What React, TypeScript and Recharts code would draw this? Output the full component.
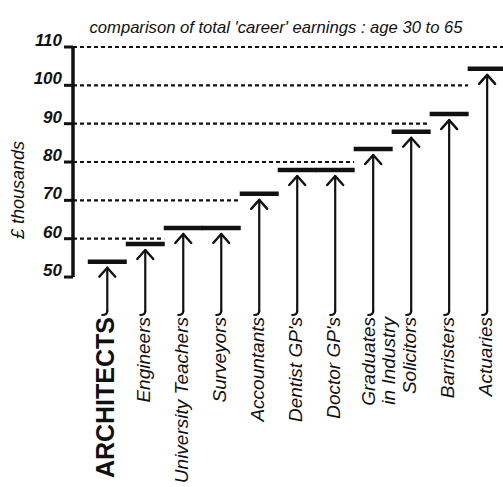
import { ComposedChart, Bar, XAxis, YAxis, ReferenceLine } from 'recharts'

// occupations, left to right, with label lines as drawn
const labelLines = [
  ['ARCHITECTS'],
  ['Engineers'],
  ['University Teachers'],
  ['Surveyors'],
  ['Accountants'],
  ["Dentist GP's"],
  ["Doctor GP's"],
  ['Graduates', 'in Industry'],
  ['Solicitors'],
  ['Barristers'],
  ['Actuaries'],
]

// total career earnings, age 30 to 65, £ thousands
const earnings = [54, 58.6, 62.8, 62.8, 71.7, 77.9, 77.9, 83.4, 87.9, 92.5, 104.3]

const yTicks = [50, 60, 70, 80, 90, 100, 110]
const gridValues = [60, 70, 80, 90, 100, 110]

const X_MIN = -0.9
const X_MAX = 10.42
const INK = '#111'
const HAND = '"Liberation Sans", sans-serif'
const CAP_HALF = 19.5

const data = earnings.map((value, idx) => ({ idx, value }))

// dashed line at each level runs until the first occupation that earns more
const gridSegments = gridValues.map((v) => {
  const first = earnings.findIndex((e) => e > v)
  return { v, end: first === -1 ? X_MAX : first - 0.5 }
})

function CapArrow(props: any) {
  const { x, y, width, height } = props
  const cx = x + width / 2
  const bottom = y + height
  const tip = y + 6
  return (
    <g stroke={INK} fill="none" strokeLinecap="round" strokeLinejoin="round">
      <line x1={cx - CAP_HALF} x2={cx + CAP_HALF} y1={y} y2={y} strokeWidth={4.5} strokeLinecap="butt" />
      <path d={`M${cx},${bottom - 4} L${cx},${tip}`} strokeWidth={2.2} />
      <path d={`M${cx - 8},${tip + 9} L${cx},${tip} L${cx + 8},${tip + 9}`} strokeWidth={2.4} />
      <path d={`M${cx},${bottom - 4} Q${cx},${bottom} ${cx - 5},${bottom}`} strokeWidth={2.2} />
    </g>
  )
}

function CategoryTick({ x, y, payload }: any) {
  const lines = labelLines[payload.value]
  if (!lines) return null
  const lead = payload.value === 0
  return (
    <g transform={`translate(${x},${y})`}>
      {lines.map((line, i) => (
        <text
          key={i}
          transform="rotate(-90)"
          textAnchor="end"
          dy={lines.length > 1 ? 2 + i * 20 : lead ? 7 : 5}
          fill={INK}
          fontFamily={lead ? '"Liberation Sans Narrow", sans-serif' : HAND}
          fontStyle={lead ? 'normal' : 'italic'}
          fontWeight={lead ? 'bold' : 'normal'}
          fontSize={lead ? 25 : 19}
        >
          {line}
        </text>
      ))}
    </g>
  )
}

function ValueTick({ x, y, payload }: any) {
  return (
    <text x={x} y={y} dy={-1} textAnchor="end" fill={INK} fontFamily={HAND}
      fontStyle="italic" fontWeight="bold" fontSize={17}>
      {payload.value}
    </text>
  )
}

export default function App() {
  return (
    <div style={{ position: 'absolute', left: 0, top: 0, width: 503, height: 487, background: '#fff' }}>
      <ComposedChart
        width={503}
        height={487}
        data={data}
        margin={{ top: 47, right: 0, bottom: 0, left: 0 }}
        barCategoryGap={0}
        barGap={0}
      >
        <XAxis
          dataKey="idx"
          type="number"
          domain={[X_MIN, X_MAX]}
          ticks={data.map((d) => d.idx)}
          interval={0}
          height={172}
          axisLine={false}
          tickLine={false}
          tickSize={0}
          tickMargin={2}
          tick={<CategoryTick />}
        />
        <YAxis
          type="number"
          domain={[40.1, 110]}
          ticks={yTicks}
          interval={0}
          width={73}
          axisLine={false}
          tickLine={{ stroke: INK, strokeWidth: 3 }}
          tickSize={9}
          tick={<ValueTick />}
        />
        {gridSegments.map((g) => (
          <ReferenceLine
            key={g.v}
            segment={[{ x: X_MIN, y: g.v }, { x: g.end, y: g.v }]}
            stroke={INK}
            strokeWidth={2.2}
            strokeDasharray="4 3"
            ifOverflow="visible"
          />
        ))}
        <ReferenceLine
          segment={[{ x: X_MIN, y: 50 }, { x: X_MIN, y: 110 }]}
          stroke={INK}
          strokeWidth={3.5}
          ifOverflow="visible"
        />
        <Bar dataKey="value" barSize={38} shape={<CapArrow />} isAnimationActive={false} />
      </ComposedChart>
      <svg width={503} height={487} style={{ position: 'absolute', left: 0, top: 0, pointerEvents: 'none' }}>
        <text x={276} y={33} textAnchor="middle" fill={INK} fontFamily={HAND} fontStyle="italic"
          fontSize={17} textLength={373} lengthAdjust="spacingAndGlyphs">
          comparison of total 'career' earnings : age 30 to 65
        </text>
        <text transform="translate(24,190) rotate(-90)" textAnchor="middle" fill={INK} fontFamily={HAND}
          fontStyle="italic" fontSize={18}>
          £ thousands
        </text>
      </svg>
    </div>
  )
}
